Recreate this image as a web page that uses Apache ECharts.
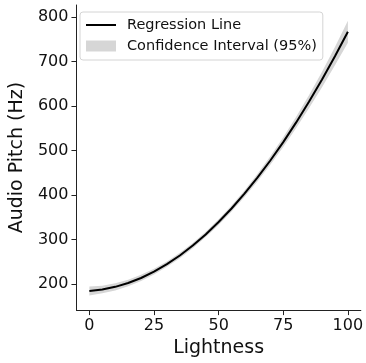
<!DOCTYPE html>
<html>
<head>
<meta charset="utf-8">
<script src="https://cdn.jsdelivr.net/npm/echarts@6/dist/echarts.min.js"></script>
<style>html,body{margin:0;padding:0;background:#fff}#c{width:366px;height:363px}</style>
</head>
<body>
<div id="c"></div>
<script>
var lightness = [0,5,10,15,20,25,30,35,40,45,50,55,60,65,70,75,80,85,90,95,100];
var pitchFit  = [185,188.2,194.2,202.8,214.1,228.3,245.1,264.6,286.9,311.9,339.7,370.1,403.3,439.3,477.9,519.2,563.4,610.2,659.7,712,767];
var ciLower   = [175,179.7,186.2,195.3,207.1,221.8,239.1,258.6,280.9,305.9,333.2,363.1,395.8,430.8,468.4,508.2,550.9,595.7,642.2,691.5,742.5];
var ciUpper   = [195,196.7,202.2,210.3,221.1,234.8,251.1,270.6,292.9,317.9,346.2,377.1,410.8,447.8,487.4,530.2,575.9,624.7,677.2,732.5,791.5];
var xTicks = [0,25,50,75,100];
var yTicks = [200,300,400,500,600,700,800];

var font = 'DejaVu Sans';
var lineData = lightness.map(function(x,i){return [x,pitchFit[i]];});
var bandData = lightness.map(function(x,i){return [x,ciLower[i],ciUpper[i]];});
var bandColor = '#d6d6d6';

var chart = echarts.init(document.getElementById('c'), null, {renderer:'canvas'});
chart.setOption({
  animation:false,
  textStyle:{fontFamily:font},
  grid:{left:73,top:5,width:290,height:308,containLabel:false},
  legend:{
    left:80, top:12, orient:'vertical',
    data:[
      {name:'Regression Line', icon:'path://M0,0L30,0L30,2L0,2Z'},
      {name:'Confidence Interval (95%)', icon:'rect'}
    ],
    itemWidth:30, itemHeight:11, itemGap:5,
    padding:[5,6,6,6],
    borderColor:'#d4d4d4', borderWidth:1, borderRadius:3,
    backgroundColor:'rgba(255,255,255,0.8)',
    textStyle:{fontFamily:font, fontSize:14.5, lineHeight:16, color:'#111', padding:[0,0,0,6]}
  },
  xAxis:{
    type:'value', min:-5, max:105,
    name:'Lightness', nameLocation:'middle', nameGap:24,
    nameTextStyle:{fontFamily:font, fontSize:19, color:'#111'},
    axisLine:{show:true, onZero:false, lineStyle:{color:'#222', width:1}},
    axisTick:{show:true, length:5, lineStyle:{color:'#222'}, customValues:xTicks},
    axisLabel:{fontFamily:font, fontSize:16, color:'#111', margin:8, customValues:xTicks},
    splitLine:{show:false}
  },
  yAxis:{
    type:'value', min:142, max:827,
    name:'Audio Pitch (Hz)', nameLocation:'middle', nameGap:40, nameRotate:90,
    nameTextStyle:{fontFamily:font, fontSize:19, color:'#111'},
    axisLine:{show:true, onZero:false, lineStyle:{color:'#222', width:1}},
    axisTick:{show:true, length:5, lineStyle:{color:'#222'}, customValues:yTicks},
    axisLabel:{fontFamily:font, fontSize:16, color:'#111', margin:8, customValues:yTicks},
    splitLine:{show:false}
  },
  series:[
    {name:'Confidence Interval (95%)', type:'custom', data:bandData,
      itemStyle:{color:bandColor},
      encode:{x:0, y:[1,2]},
      renderItem:function(params, api){
        if (params.dataIndex !== 0) return null;
        var pts = [];
        for (var i=0;i<lightness.length;i++) pts.push(api.coord([lightness[i], ciUpper[i]]));
        for (var j=lightness.length-1;j>=0;j--) pts.push(api.coord([lightness[j], ciLower[j]]));
        return {type:'polygon', shape:{points:pts}, style:{fill:bandColor}};
      }
    },
    {name:'Regression Line', type:'line', data:lineData, symbol:'none', smooth:false,
      lineStyle:{color:'#000', width:2}, itemStyle:{color:'#000'}, z:3}
  ]
});
</script>
</body>
</html>
